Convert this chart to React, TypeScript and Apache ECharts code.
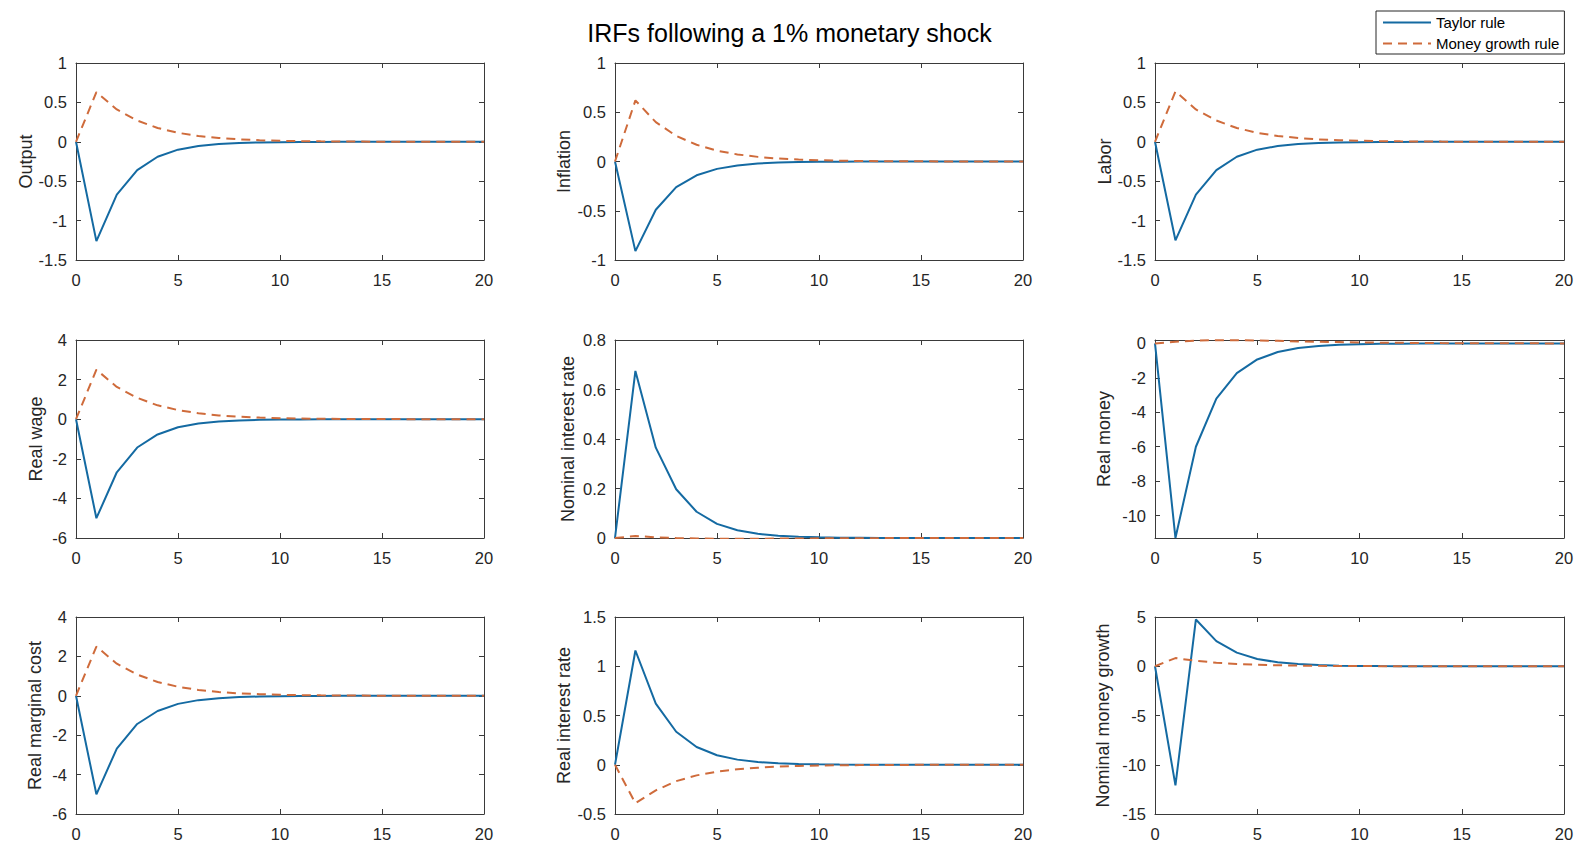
import React, { useEffect, useRef } from "react";
import * as echarts from "echarts";

// ---------------- data ----------------
const periods = [0, 1, 2, 3, 4, 5, 6, 7, 8, 9, 10, 11, 12, 13, 14, 15, 16, 17, 18, 19, 20];
const xTicks = [0, 5, 10, 15, 20];

const outputTaylor = [0, -1.26, -0.67, -0.36, -0.19, -0.1, -0.054, -0.029, -0.015, -0.008, -0.0043, -0.0023, -0.0012, -0.0007, -0.0004, -0.0002, -0.0001, -0.0001, 0, 0, 0];
const outputMoney = [0, 0.63, 0.41, 0.27, 0.175, 0.114, 0.074, 0.048, 0.031, 0.02, 0.013, 0.0085, 0.0055, 0.0036, 0.0023, 0.0015, 0.001, 0.0006, 0.0004, 0.0003, 0.0002];

const inflationTaylor = [0, -0.91, -0.49, -0.26, -0.14, -0.075, -0.04, -0.021, -0.011, -0.006, -0.003, -0.0017, -0.0009, -0.0005, -0.0003, -0.0001, -0.0001, 0, 0, 0, 0];
const inflationMoney = [0, 0.62, 0.4, 0.26, 0.17, 0.11, 0.072, 0.047, 0.03, 0.02, 0.013, 0.0085, 0.0055, 0.0036, 0.0023, 0.0015, 0.001, 0.0006, 0.0004, 0.0003, 0.0002];

const laborTaylor = [0, -1.25, -0.67, -0.36, -0.19, -0.1, -0.054, -0.029, -0.015, -0.008, -0.0043, -0.0023, -0.0012, -0.0007, -0.0004, -0.0002, -0.0001, -0.0001, 0, 0, 0];
const laborMoney = [0, 0.64, 0.41, 0.27, 0.175, 0.114, 0.074, 0.048, 0.031, 0.02, 0.013, 0.0085, 0.0055, 0.0036, 0.0023, 0.0015, 0.001, 0.0006, 0.0004, 0.0003, 0.0002];

const realWageTaylor = [0, -5.0, -2.68, -1.43, -0.77, -0.41, -0.22, -0.12, -0.063, -0.034, -0.018, -0.0097, -0.0052, -0.0028, -0.0015, -0.0008, -0.0004, -0.0002, -0.0001, -0.0001, 0];
const realWageMoney = [0, 2.5, 1.63, 1.08, 0.7, 0.46, 0.3, 0.19, 0.125, 0.082, 0.053, 0.034, 0.022, 0.014, 0.009, 0.006, 0.004, 0.0025, 0.0016, 0.001, 0.0007];

const nomRateTaylor = [0, 0.675, 0.365, 0.197, 0.106, 0.057, 0.031, 0.017, 0.009, 0.005, 0.0026, 0.0014, 0.0008, 0.0004, 0.0002, 0.0001, 0.0001, 0, 0, 0, 0];
const nomRateMoney = [0, 0.008, 0.003, 0, -0.002, -0.003, -0.003, -0.003, -0.002, -0.002, -0.0015, -0.001, -0.0007, -0.0005, -0.0003, -0.0002, -0.0001, -0.0001, 0, 0, 0];

const realMoneyTaylor = [0, -11.3, -6.0, -3.2, -1.72, -0.93, -0.5, -0.27, -0.145, -0.078, -0.042, -0.023, -0.012, -0.0066, -0.0036, -0.0019, -0.001, -0.0006, -0.0003, -0.0002, -0.0001];
const realMoneyMoney = [0, 0.1, 0.16, 0.19, 0.19, 0.17, 0.15, 0.12, 0.1, 0.08, 0.06, 0.045, 0.035, 0.026, 0.02, 0.015, 0.011, 0.008, 0.006, 0.004, 0.003];
const realMoneyTicks = [-10, -8, -6, -4, -2, 0];

const realMcTaylor = [0, -5.0, -2.68, -1.43, -0.77, -0.41, -0.22, -0.12, -0.063, -0.034, -0.018, -0.0097, -0.0052, -0.0028, -0.0015, -0.0008, -0.0004, -0.0002, -0.0001, -0.0001, 0];
const realMcMoney = [0, 2.5, 1.63, 1.08, 0.7, 0.46, 0.3, 0.19, 0.125, 0.082, 0.053, 0.034, 0.022, 0.014, 0.009, 0.006, 0.004, 0.0025, 0.0016, 0.001, 0.0007];

const realRateTaylor = [0, 1.16, 0.62, 0.335, 0.18, 0.096, 0.052, 0.028, 0.015, 0.008, 0.0043, 0.0023, 0.0012, 0.0007, 0.0004, 0.0002, 0.0001, 0.0001, 0, 0, 0];
const realRateMoney = [0, -0.39, -0.26, -0.166, -0.108, -0.07, -0.046, -0.03, -0.019, -0.012, -0.008, -0.0053, -0.0034, -0.0022, -0.0015, -0.001, -0.0006, -0.0004, -0.0003, -0.0002, -0.0001];

const nomGrowthTaylor = [0, -12.1, 4.75, 2.55, 1.38, 0.74, 0.4, 0.22, 0.12, 0.063, 0.034, 0.018, 0.01, 0.0053, 0.0029, 0.0015, 0.0008, 0.0004, 0.0002, 0.0001, 0.0001];
const nomGrowthMoney = [0, 0.83, 0.55, 0.36, 0.23, 0.15, 0.097, 0.063, 0.041, 0.027, 0.017, 0.011, 0.0073, 0.0047, 0.003, 0.002, 0.0013, 0.0008, 0.0005, 0.0003, 0.0002];

const seriesNames = ["Taylor rule", "Money growth rule"];
const titleText = "IRFs following a 1% monetary shock";

type Panel = {
  label: string;
  taylor: number[];
  money: number[];
  min: number;
  max: number;
  interval?: number;
  ticks?: number[];
};

const panels: Panel[] = [
  { label: "Output", taylor: outputTaylor, money: outputMoney, min: -1.5, max: 1, interval: 0.5 },
  { label: "Inflation", taylor: inflationTaylor, money: inflationMoney, min: -1, max: 1, interval: 0.5 },
  { label: "Labor", taylor: laborTaylor, money: laborMoney, min: -1.5, max: 1, interval: 0.5 },
  { label: "Real wage", taylor: realWageTaylor, money: realWageMoney, min: -6, max: 4, interval: 2 },
  { label: "Nominal interest rate", taylor: nomRateTaylor, money: nomRateMoney, min: 0, max: 0.8, interval: 0.2 },
  { label: "Real money", taylor: realMoneyTaylor, money: realMoneyMoney, min: -11.3, max: 0.2, ticks: realMoneyTicks },
  { label: "Real marginal cost", taylor: realMcTaylor, money: realMcMoney, min: -6, max: 4, interval: 2 },
  { label: "Real interest rate", taylor: realRateTaylor, money: realRateMoney, min: -0.5, max: 1.5, interval: 0.5 },
  { label: "Nominal money growth", taylor: nomGrowthTaylor, money: nomGrowthMoney, min: -15, max: 5, interval: 5 },
];

// ---------------- layout ----------------
const colLeft = [76, 615, 1155];
const colWidth = [408, 408, 409];
const rowTop = [63, 340, 617];
const rowHeight = [197, 198, 198];
const nameGaps = [39, 42, 41, 31, 38, 42, 32, 42, 43];

const FONT = "'Liberation Sans', Arial, Helvetica, sans-serif";
const AXIS_COLOR = "#262626";
const BOX_COLOR = "#3a3a3a";
const BLUE = "#146aa2";
const ORANGE = "#cf6b3b";

function buildOption() {
  const grid: any[] = [];
  const xAxis: any[] = [];
  const yAxis: any[] = [];
  const series: any[] = [];

  panels.forEach((p, i) => {
    const col = i % 3;
    const row = Math.floor(i / 3);
    grid.push({ left: colLeft[col], top: rowTop[row], width: colWidth[col], height: rowHeight[row] });

    const tickStyle = { show: true, inside: true, length: 5, lineStyle: { color: BOX_COLOR, width: 1 } };
    const lineStyle = { show: true, onZero: false, lineStyle: { color: BOX_COLOR, width: 1 } };
    const labelStyle = { color: AXIS_COLOR, fontSize: 16.5, fontFamily: FONT };

    xAxis.push({
      type: "value", gridIndex: i, position: "bottom", min: 0, max: 20, interval: 5,
      axisLine: lineStyle, axisTick: tickStyle, splitLine: { show: false },
      axisLabel: { ...labelStyle, margin: 11, customValues: xTicks },
    });
    xAxis.push({
      type: "value", gridIndex: i, position: "top", min: 0, max: 20, interval: 5,
      axisLine: lineStyle, axisTick: tickStyle, splitLine: { show: false }, axisLabel: { show: false },
    });

    const yBase: any = { type: "value", gridIndex: i, min: p.min, max: p.max, splitLine: { show: false }, axisLine: lineStyle };
    if (p.interval !== undefined) yBase.interval = p.interval;

    yAxis.push({
      ...yBase,
      position: "left",
      axisTick: p.ticks ? { ...tickStyle, customValues: p.ticks } : tickStyle,
      axisLabel: p.ticks ? { ...labelStyle, margin: 9, customValues: p.ticks } : { ...labelStyle, margin: 9 },
      name: p.label,
      nameLocation: "middle",
      nameRotate: 90,
      nameGap: nameGaps[i],
      nameTextStyle: { color: AXIS_COLOR, fontSize: 18, fontFamily: FONT },
    });
    yAxis.push({
      ...yBase,
      position: "right",
      axisTick: p.ticks ? { ...tickStyle, customValues: p.ticks } : tickStyle,
      axisLabel: { show: false },
    });

    series.push({
      name: seriesNames[0], type: "line", xAxisIndex: i * 2, yAxisIndex: i * 2,
      data: periods.map((t, k) => [t, p.taylor[k]]),
      symbol: "none", clip: true, z: 3,
      lineStyle: { color: BLUE, width: 2 }, itemStyle: { color: BLUE },
    });
    series.push({
      name: seriesNames[1], type: "line", xAxisIndex: i * 2, yAxisIndex: i * 2,
      data: periods.map((t, k) => [t, p.money[k]]),
      symbol: "none", clip: true, z: 4,
      lineStyle: { color: ORANGE, width: 2, type: [9, 6] }, itemStyle: { color: ORANGE },
    });
  });

  return {
    animation: false,
    backgroundColor: "#ffffff",
    textStyle: { fontFamily: FONT },
    title: {
      text: titleText, left: "center", top: 15,
      textStyle: { fontSize: 25, fontWeight: "normal", color: "#000", fontFamily: FONT, lineHeight: 25 },
    },
    legend: {
      data: seriesNames,
      orient: "vertical",
      left: 1376, top: 11,
      itemWidth: 48, itemHeight: 14, itemGap: 6,
      padding: [4, 5, 3, 6],
      borderColor: AXIS_COLOR, borderWidth: 1, backgroundColor: "#fff",
      itemStyle: { opacity: 0 },
      textStyle: { fontSize: 15, color: "#000", fontFamily: FONT, lineHeight: 15 },
    },
    grid, xAxis, yAxis, series,
  };
}

export default function App() {
  const ref = useRef<HTMLDivElement>(null);
  useEffect(() => {
    document.body.style.margin = "0";
    if (!ref.current) return;
    const chart = echarts.init(ref.current, undefined, { renderer: "svg" });
    chart.setOption(buildOption() as any);
    return () => chart.dispose();
  }, []);
  return (
    <div
      ref={ref}
      style={{ position: "absolute", left: 0, top: 0, width: 1579, height: 842, background: "#fff" }}
    />
  );
}
